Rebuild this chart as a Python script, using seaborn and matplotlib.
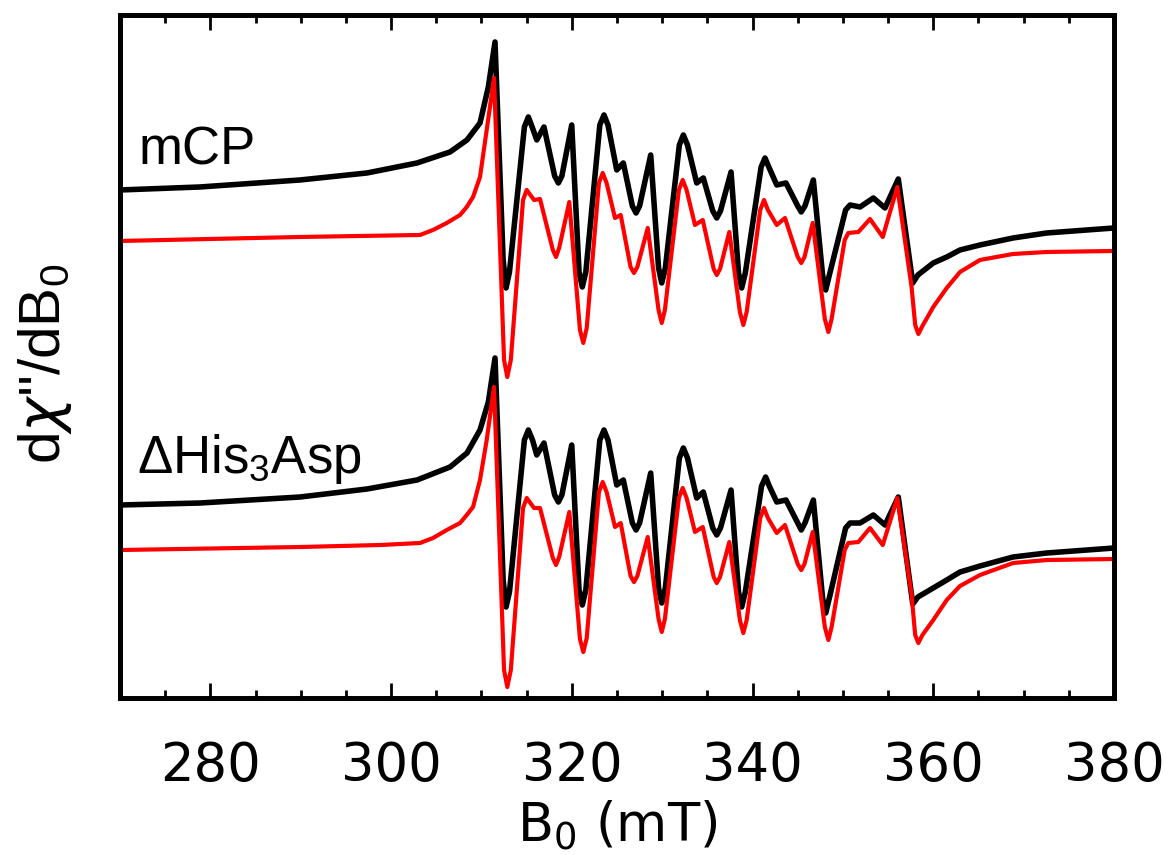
import numpy as np
import pandas as pd
import matplotlib
matplotlib.use('Agg')
import matplotlib.pyplot as plt
from matplotlib.ticker import MultipleLocator
import seaborn as sns

# field axis in mT, intensity in arbitrary units
b_mcp_exp = [270, 278.85, 289.92, 297.33, 302.87, 306.52, 308.40, 309.84, 310.76, 311.50,
             312.4, 312.72, 313.1, 314.75, 315.19, 315.65, 316.12, 316.92, 318.1, 318.51,
             318.9, 319.99, 320.8, 321.16, 321.55, 323.1, 323.56, 324.0, 324.97, 325.70,
             326.7, 327.11, 327.5, 328.73, 329.6, 329.95, 330.35, 331.9, 332.34, 332.8,
             333.82, 334.55, 335.6, 336.04, 336.45, 337.62, 338.45, 338.80, 339.2, 340.95,
             341.38, 341.8, 342.68, 343.70, 345.0, 345.39, 345.8, 346.73, 347.75, 348.10,
             348.5, 350.3, 350.79, 351.90, 353.37, 354.66, 356.13, 357.73, 358.3, 360.0,
             361.49, 362.96, 365.17, 368.83, 372.56, 380]
y_mcp_exp = [510, 513, 520, 527, 537, 548, 560, 577, 613, 658,
             440, 412, 428, 573, 583, 572, 560, 573, 524, 517,
             524, 575, 428, 413, 428, 575, 585, 575, 530, 537,
             494, 487, 494, 545, 432, 417, 432, 555, 565, 555,
             517, 522, 489, 482, 489, 528, 427, 412, 427, 533,
             542, 533, 515, 517, 494, 488, 494, 520, 425, 410,
             425, 490, 495, 493, 502, 492, 521, 417, 425, 437,
             443, 450, 455, 462, 467, 472]

b_mcp_sim = [270, 289.92, 303.20, 304.64, 306.16, 307.63, 308.37, 309.07, 309.84, 310.58,
             311.39, 312.5, 312.86, 313.25, 314.6, 315.01, 315.82, 316.48, 317.9, 318.25,
             318.6, 319.72, 320.9, 321.27, 321.65, 323.0, 323.42, 323.85, 324.78, 325.41,
             326.5, 326.88, 327.25, 328.40, 329.6, 329.95, 330.3, 331.85, 332.27, 332.7,
             333.63, 334.49, 335.7, 336.04, 336.4, 337.43, 338.6, 338.98, 339.35, 340.85,
             341.27, 341.7, 342.68, 343.59, 345.0, 345.39, 345.75, 346.66, 348.0, 348.39,
             348.75, 350.2, 350.60, 351.71, 353.00, 354.41, 356.02, 357.6, 358.0, 358.35,
             358.8, 360.0, 361.49, 362.96, 365.17, 368.83, 372.56, 380]
y_mcp_sim = [459, 463, 465, 470, 477, 485, 493, 503, 523, 570,
             622, 340, 323, 340, 500, 510, 500, 501, 450, 443,
             452, 498, 370, 357, 372, 517, 527, 517, 482, 485,
             433, 427, 433, 472, 390, 377, 390, 510, 520, 510,
             475, 480, 431, 425, 431, 468, 388, 375, 388, 490,
             500, 490, 475, 482, 443, 437, 443, 477, 381, 368,
             381, 460, 467, 468, 481, 463, 513, 413, 375, 366,
             374, 393, 412, 428, 440, 446, 448, 449]

b_his_exp = [270, 278.85, 289.92, 297.33, 302.87, 306.52, 308.40, 309.84, 310.76, 311.50,
             312.4, 312.72, 313.1, 314.75, 315.19, 315.65, 316.12, 316.92, 318.1, 318.51,
             318.9, 319.99, 320.8, 321.16, 321.55, 323.1, 323.56, 324.0, 324.97, 325.70,
             326.7, 327.11, 327.5, 328.73, 329.6, 329.95, 330.35, 331.9, 332.34, 332.8,
             333.82, 334.55, 335.6, 336.04, 336.45, 337.62, 338.45, 338.80, 339.2, 341.0,
             341.45, 341.85, 342.68, 343.70, 345.0, 345.39, 345.8, 346.73, 347.75, 348.10,
             348.5, 350.3, 350.79, 351.90, 353.37, 354.66, 356.13, 357.73, 358.3, 361.49,
             362.96, 365.17, 368.83, 372.56, 380]
y_his_exp = [195, 197, 203, 211, 220, 233, 247, 270, 298, 342,
             120, 93, 108, 260, 270, 260, 245, 257, 205, 198,
             205, 255, 110, 95, 110, 260, 270, 260, 215, 220,
             177, 170, 177, 227, 112, 97, 112, 242, 252, 242,
             202, 208, 172, 165, 172, 210, 108, 93, 108, 214,
             223, 214, 198, 200, 177, 170, 177, 200, 102, 87,
             102, 172, 177, 177, 185, 175, 203, 96, 103, 120,
             128, 134, 143, 147, 152]

b_his_sim = [270, 289.92, 298.77, 303.20, 304.64, 306.16, 307.63, 308.37, 309.07, 309.84,
             310.58, 311.39, 312.5, 312.86, 313.25, 314.6, 315.01, 315.82, 316.48, 317.9,
             318.25, 318.6, 319.72, 320.9, 321.27, 321.65, 323.0, 323.42, 323.85, 324.78,
             325.41, 326.5, 326.88, 327.25, 328.40, 329.6, 329.95, 330.3, 331.85, 332.27,
             332.7, 333.63, 334.49, 335.7, 336.04, 336.4, 337.43, 338.6, 338.98, 339.35,
             340.85, 341.27, 341.7, 342.68, 343.59, 345.0, 345.39, 345.75, 346.66, 348.0,
             348.39, 348.75, 350.2, 350.60, 351.71, 353.00, 354.41, 356.02, 357.6, 358.0,
             358.35, 358.8, 360.0, 361.49, 362.96, 365.17, 368.83, 372.56, 380]
y_his_sim = [150, 153, 155, 157, 162, 170, 177, 185, 193, 220,
             260, 313, 30, 13, 30, 192, 202, 192, 192, 142,
             135, 143, 188, 61, 48, 62, 208, 218, 208, 173,
             177, 124, 118, 124, 163, 81, 68, 81, 202, 212,
             202, 168, 173, 123, 117, 123, 158, 80, 67, 80,
             182, 192, 182, 167, 175, 136, 130, 136, 168, 73,
             60, 73, 150, 157, 158, 172, 155, 202, 105, 65,
             57, 65, 80, 100, 114, 125, 137, 140, 141]

labels = ['mCP', 'ΔHis$_\\mathregular{3}$Asp']

sns.set_style('ticks')
plt.rcParams['font.family'] = ['DejaVu Sans']
plt.rcParams['text.color'] = 'black'
plt.rcParams['axes.labelcolor'] = 'black'
plt.rcParams['axes.edgecolor'] = 'black'
plt.rcParams['xtick.color'] = 'black'

fig = plt.figure(figsize=(11.72, 8.55), dpi=100)
ax = fig.add_axes([0.1024, 0.1836, 0.8481, 0.7989])

sns.lineplot(x=b_mcp_exp, y=y_mcp_exp, ax=ax, color='black', lw=4.0, estimator=None, sort=False)
sns.lineplot(x=b_mcp_sim, y=y_mcp_sim, ax=ax, color='#ff0000', lw=3.0, estimator=None, sort=False)
sns.lineplot(x=b_his_exp, y=y_his_exp, ax=ax, color='black', lw=4.0, estimator=None, sort=False)
sns.lineplot(x=b_his_sim, y=y_his_sim, ax=ax, color='#ff0000', lw=3.0, estimator=None, sort=False)

ax.set_xlim(270, 380)
ax.set_ylim(2, 685)

ax.text(272.0, 535, labels[0], fontsize=38, family='Liberation Sans', va='baseline', ha='left')
ax.text(271.9, 227, labels[1], fontsize=38, family='Liberation Sans', va='baseline', ha='left')

ax.xaxis.set_major_locator(MultipleLocator(20))
ax.xaxis.set_minor_locator(MultipleLocator(5))
ax.set_yticks([])
ax.tick_params(axis='x', which='both', direction='in', top=True, bottom=True,
               width=2.0, labelsize=38, pad=30)
ax.tick_params(axis='x', which='major', length=11)
ax.tick_params(axis='x', which='minor', length=6)
for s in ax.spines.values():
    s.set_linewidth(3.4)
    s.set_visible(True)

# inward ticks along the top edge via a twin x axis
tw = ax.twiny()
tw.set_xlim(ax.get_xlim())
tw.xaxis.set_major_locator(MultipleLocator(20))
tw.xaxis.set_minor_locator(MultipleLocator(5))
tw.tick_params(axis='x', which='both', direction='in', top=True, bottom=False,
               labeltop=False, labelbottom=False, width=2.0, color='black')
tw.tick_params(axis='x', which='major', length=11)
tw.tick_params(axis='x', which='minor', length=6)
for s in tw.spines.values():
    s.set_linewidth(3.4)
    s.set_color('black')

ax.set_xlabel('B$_0$ (mT)', fontsize=38)
ax.xaxis.set_label_coords(0.5, -0.187)
ax.xaxis.label.set_va('center')
ax.set_ylabel("d$\\chi$''/dB$_\\mathregular{0}$", fontsize=42, family='Liberation Sans')
ax.yaxis.set_label_coords(-0.0755, 0.49)
ax.yaxis.label.set_va('center')

plt.savefig('out.png', dpi=100)
plt.close('all')
